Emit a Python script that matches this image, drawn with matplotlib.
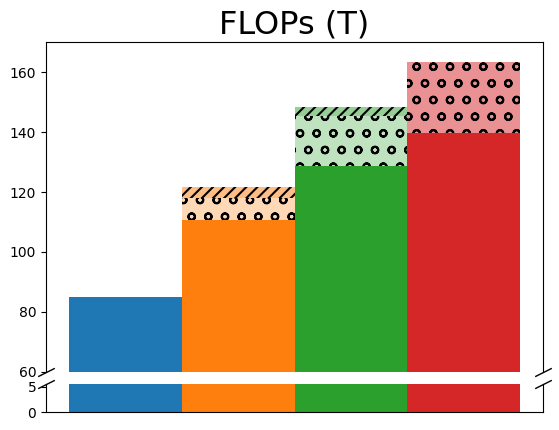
import numpy as np
import matplotlib
matplotlib.use('Agg')
import matplotlib.pyplot as plt
from matplotlib.colors import to_rgba

# ------------------- Data: ---------------------------------------------------------
colors = ['tab:blue', 'tab:orange', 'tab:green', 'tab:red']
base_flops = [85.0, 110.7, 128.6, 139.6]
circle_flops = [0.0, 7.4, 16.6, 23.6]   # 'o' hatched part
slash_flops = [0.0, 3.7, 3.3, 0.0]      # '///' hatched part
circle_alpha = [0.3, 0.3, 0.3, 0.5]

top_yticks = [60, 80, 100, 120, 140, 160]
bottom_yticks = [0, 5]

# ------------------- Plotting: -----------------------------------------------------
plt.rcParams['hatch.linewidth'] = 1.5

fig = plt.figure(figsize=(5.59, 4.3), dpi=100)
ax_top = fig.add_axes([0.0823, 0.1349, 0.8891, 0.7674])
ax_bot = fig.add_axes([0.0823, 0.0412, 0.8891, 0.0656])

x = np.arange(len(base_flops))
mid = np.array(base_flops) + np.array(circle_flops)

for ax in (ax_top, ax_bot):
    ax.bar(x, base_flops, width=1.0, color=colors)
    for i in range(len(x)):
        if circle_flops[i] > 0:
            ax.bar(x[i], circle_flops[i], width=1.0, bottom=base_flops[i],
                   facecolor=to_rgba(colors[i], circle_alpha[i]), hatch='o',
                   edgecolor='black', linewidth=0)
        if slash_flops[i] > 0:
            ax.bar(x[i], slash_flops[i], width=1.0, bottom=mid[i],
                   facecolor=to_rgba(colors[i], 0.5), hatch='///',
                   edgecolor='black', linewidth=0)
    ax.set_xticks([])

ax_top.set_ylim(60, 170)
ax_bot.set_ylim(0, 5.5)
ax_top.set_yticks(top_yticks)
ax_bot.set_yticks(bottom_yticks)

ax_top.spines['bottom'].set_visible(False)
ax_bot.spines['top'].set_visible(False)

# break marks
d = .5
kwargs = dict(marker=[(-1, -d), (1, d)], markersize=12,
              linestyle="none", color='k', mec='k', mew=1, clip_on=False)
ax_top.plot([0, 1], [0, 0], transform=ax_top.transAxes, **kwargs)
ax_bot.plot([0, 1], [1, 1], transform=ax_bot.transAxes, **kwargs)

ax_top.set_title('FLOPs (T)', fontsize=23)

fig.savefig('out.png', dpi=100)
